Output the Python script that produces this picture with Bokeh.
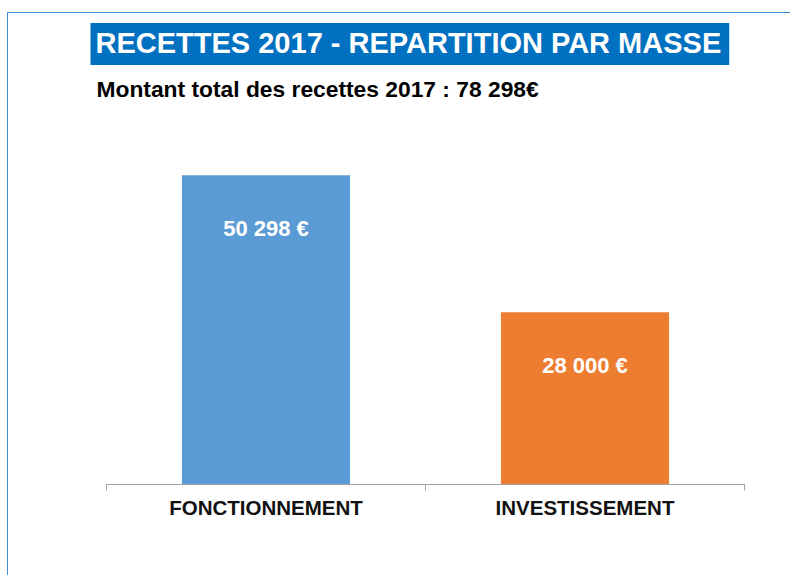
from bokeh.plotting import figure
from bokeh.models import Title, Range1d, FixedTicker, ColumnDataSource
from bokeh.core.properties import value
from bokeh.embed import file_html
from bokeh.resources import INLINE

categories = ["FONCTIONNEMENT", "INVESTISSEMENT"]
values = [50298, 28000]
value_labels = ["50 298 €", "28 000 €"]
colors = ["#5b9bd5", "#ed7d31"]
title_text = "RECETTES 2017 - REPARTITION PAR MASSE"
subtitle_text = "Montant total des recettes 2017 : 78 298€"

FONT = "Liberation Sans"
xs = [i + 0.5 for i in range(len(categories))]
src = ColumnDataSource(dict(x=xs, top=values, label=value_labels, color=colors))

p = figure(width=783, height=563, x_range=Range1d(0, len(categories)), y_range=Range1d(0, 61000),
           output_backend="svg", toolbar_location=None, title=None, y_axis_location=None,
           min_border_left=98, min_border_right=47, min_border_top=96, min_border_bottom=92)
p.styles = {"border-left": "1px solid #3c8ad8", "border-top": "1px solid #3c8ad8",
            "margin-top": "12px", "margin-left": "7px"}
p.grid.visible = False
p.outline_line_color = None
p.background_fill_color = "white"
p.border_fill_color = "white"

p.vbar(x="x", top="top", width=0.527, color="color", line_color=None, source=src)
p.text(x="x", y="top", text="label", source=src, text_color="white",
       text_font=value(FONT), text_font_style="bold", text_font_size="22px",
       text_align="center", text_baseline="middle", y_offset=53)

xa = p.xaxis[0]
xa.ticker = FixedTicker(ticks=xs, minor_ticks=list(range(len(categories) + 1)))
xa.major_label_overrides = {x: c for x, c in zip(xs, categories)}
xa.major_tick_line_color = None
xa.major_tick_in = 0
xa.major_tick_out = 0
xa.minor_tick_line_color = "#a0a0a0"
xa.minor_tick_in = 0
xa.minor_tick_out = 6
xa.axis_line_color = "#a0a0a0"
xa.major_label_text_font = FONT
xa.major_label_text_font_style = "bold"
xa.major_label_text_font_size = "20.5px"
xa.major_label_text_color = "#111111"
xa.major_label_standoff = 5

sub = Title(text=subtitle_text, align="left", offset=-10, text_font=FONT, standoff=15,
            text_font_size="22.8px", text_font_style="bold", text_color="black")
p.add_layout(sub, "above")
ttl = Title(text=title_text, align="left", offset=-16, text_font=FONT, standoff=3,
            text_font_size="29px", text_font_style="bold", text_color="white",
            background_fill_color="#0070c0",
            padding=dict(left=5, right=8, top=4, bottom=6))
p.add_layout(ttl, "above")

open("out.html", "w").write(file_html(p, INLINE))
